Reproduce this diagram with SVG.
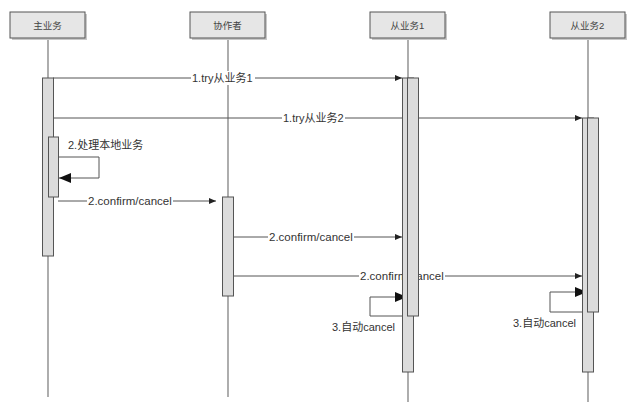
<svg xmlns="http://www.w3.org/2000/svg" width="632" height="411" viewBox="0 0 632 411">
<style>
.hdr{fill:#e6e6e6;stroke:#555;stroke-width:1}
.shd{fill:#c8c8c8}
.life{stroke:#777;stroke-width:1.2;fill:none}
.bar{fill:#dcdcdc;stroke:#555;stroke-width:1}
.msg{stroke:#555;stroke-width:1;fill:none}
.t{font-family:"Liberation Sans","Noto Sans CJK SC",sans-serif;font-size:11px;fill:#333}
.c{font-size:11.5px}
.h{font-family:"Liberation Sans","Noto Sans CJK SC",sans-serif;font-size:9.5px;fill:#444;text-anchor:middle}
.bg{fill:#fff}
</style>
<defs>
<marker id="a" markerWidth="7" markerHeight="6" refX="7" refY="3" orient="auto" markerUnits="userSpaceOnUse"><path d="M0,0 L7,3 L0,6 Z" fill="#222"/></marker>
<marker id="b" markerWidth="12" markerHeight="10" refX="12" refY="5" orient="auto" markerUnits="userSpaceOnUse"><path d="M0,0 L12,5 L0,10 Z" fill="#111"/></marker>
</defs>
<rect width="632" height="411" fill="#fff"/>
<g id="lifelines">
<line class="life" x1="48" y1="38" x2="48" y2="397"/>
<line class="life" x1="228" y1="38" x2="228" y2="397"/>
<line class="life" x1="408" y1="38" x2="408" y2="402"/>
<line class="life" x1="588" y1="38" x2="588" y2="402"/>
</g>
<g id="node-main">
<rect class="shd" x="12" y="14" width="75" height="26"/>
<rect class="hdr" x="10" y="12" width="75" height="26"/>
<text class="h" x="47.5" y="28.5">主业务</text>
</g>
<g id="node-coord">
<rect class="shd" x="192" y="14" width="75" height="26"/>
<rect class="hdr" x="190" y="12" width="75" height="26"/>
<text class="h" x="227.5" y="28.5">协作者</text>
</g>
<g id="node-s1">
<rect class="shd" x="372" y="14" width="75" height="26"/>
<rect class="hdr" x="370" y="12" width="75" height="26"/>
<text class="h" x="407.5" y="28.5">从业务1</text>
</g>
<g id="node-s2">
<rect class="shd" x="552" y="14" width="75" height="26"/>
<rect class="hdr" x="550" y="12" width="75" height="26"/>
<text class="h" x="587.5" y="28.5">从业务2</text>
</g>
<g id="connectors">
<line class="msg" x1="53" y1="78" x2="402" y2="78" marker-end="url(#a)"/>
<rect class="bg" x="191" y="71" width="64" height="14"/>
<text class="t" x="192" y="82">1.try从业务1</text>
<line class="msg" x1="53" y1="118" x2="582" y2="118" marker-end="url(#a)"/>
<rect class="bg" x="282" y="111" width="63" height="14"/>
<text class="t" x="283" y="122">1.try从业务2</text>
<path class="msg" d="M59,157 H99 V178 H59" marker-end="url(#b)"/>
<text class="t" x="68" y="149" font-size="10px">2.处理本地业务</text>
<line class="msg" x1="58" y1="201" x2="216" y2="201" marker-end="url(#a)"/>
<rect class="bg" x="87" y="194" width="86" height="14"/>
<text class="t c" x="88" y="205">2.confirm/cancel</text>
<line class="msg" x1="234" y1="237" x2="402" y2="237" marker-end="url(#a)"/>
<rect class="bg" x="268" y="230" width="86" height="14"/>
<text class="t c" x="269" y="241">2.confirm/cancel</text>
<line class="msg" x1="234" y1="276" x2="582" y2="276" marker-end="url(#a)"/>
<rect class="bg" x="359" y="269" width="86" height="14"/>
<text class="t c" x="360" y="280">2.confirm/cancel</text>
<path class="msg" d="M407,316 H370 V297 H407" marker-end="url(#b)"/>
<text class="t" x="332" y="331" font-size="10px">3.自动cancel</text>
<path class="msg" d="M587,312 H550 V292 H587" marker-end="url(#b)"/>
<text class="t" x="513" y="327" font-size="10px">3.自动cancel</text>
</g>
<g id="activations">
<rect class="bar" x="42.5" y="78" width="11" height="178"/>
<rect class="bar" x="48.5" y="137" width="10" height="60"/>
<rect class="bar" x="222.5" y="197" width="11" height="99"/>
<rect class="bar" x="402.5" y="78" width="11" height="294"/>
<rect class="bar" x="407.5" y="78" width="11" height="238"/>
<rect class="bar" x="582.5" y="118" width="11" height="254"/>
<rect class="bar" x="587.5" y="118" width="11" height="194"/>
</g>
</svg>
